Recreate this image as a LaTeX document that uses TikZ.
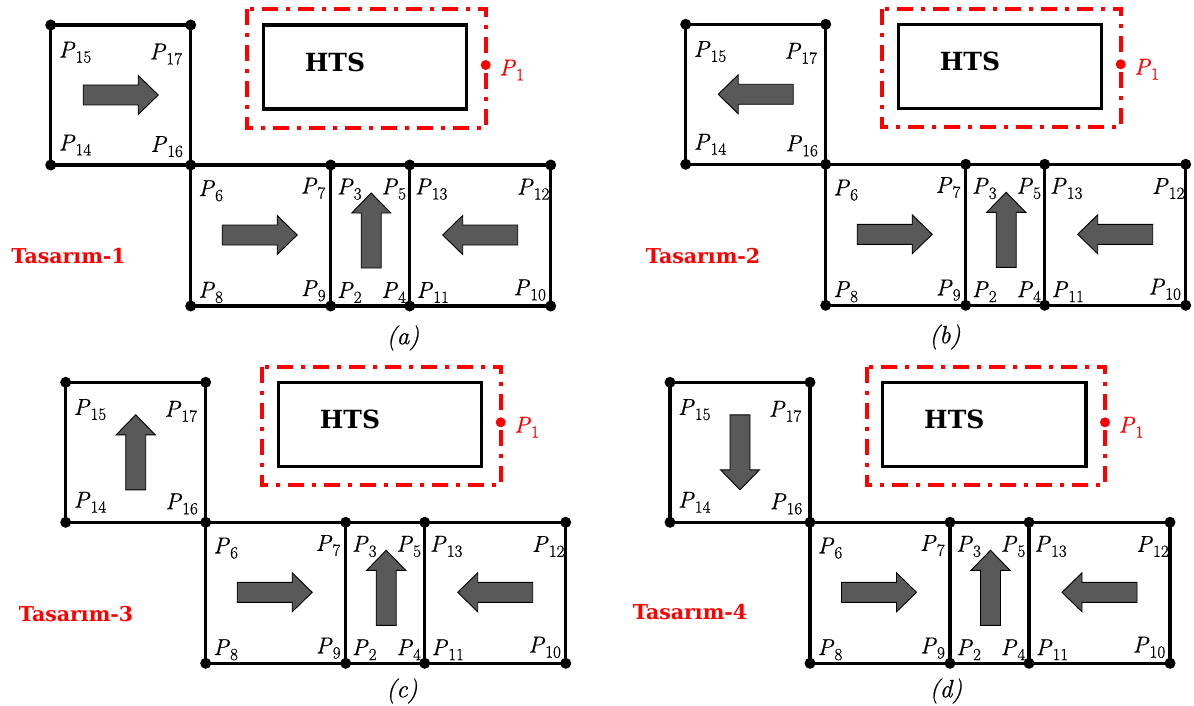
\documentclass[tikz,border=0pt]{standalone}
\usepackage{fontspec}
\newfontfamily\slabfont{DejaVu Serif}
\newfontfamily\pfont{Latin Modern Roman}[FakeBold=0.7]
\definecolor{arrowgray}{HTML}{595959}
\definecolor{hred}{HTML}{FF0000}
\newcommand\Pl[1]{\textit{P}\kern0.3pt\raisebox{-0.22em}{\fontsize{17}{18}\selectfont #1}}
\tikzset{
  blk/.style={line width=3.2pt, draw=black},
  cornerdot/.style={circle, fill=black, inner sep=0pt, minimum size=11pt},
  plabel/.style={inner sep=0pt, font=\pfont\fontsize{23}{25}\selectfont},
  fatarrow/.style={fill=arrowgray, draw=black, line width=0.9pt, line join=miter},
  redbox/.style={draw=hred, line width=4pt, dash pattern=on 16pt off 8pt on 4pt off 8pt},
  htsbox/.style={line width=3.2pt, draw=black},
  htstext/.style={font=\slabfont\bfseries\fontsize{25}{28}\selectfont, inner sep=0pt},
  tastext/.style={font=\slabfont\bfseries\fontsize{20.5}{24}\selectfont, text=hred, inner sep=0pt},
  captext/.style={font=\pfont\itshape\fontsize{25}{28}\selectfont, inner sep=0pt},
  reddot/.style={circle, fill=hred, inner sep=0pt, minimum size=10pt},
}
\newcommand\fatarr[3]{%
  \begin{scope}[shift={(#1,#2)}, rotate=#3]
    \filldraw[fatarrow] (-37.5,-10) -- (17.5,-10) -- (17.5,-19.5) -- (37.5,0)
      -- (17.5,19.5) -- (17.5,10) -- (-37.5,10) -- cycle;
  \end{scope}}
\newcommand\panel[4]{%
  \begin{scope}[shift={(#2,#3)}]
    \coordinate (#1-tl) at (0,0);
    \coordinate (#1-tr) at (140,0);
    \coordinate (#1-bl) at (0,140);
    \coordinate (#1-br) at (140,140);
    \coordinate (#1-b2) at (280,140);
    \coordinate (#1-b3) at (359,140);
    \coordinate (#1-b4) at (500,140);
    \coordinate (#1-c1) at (140,281);
    \coordinate (#1-c2) at (280,281);
    \coordinate (#1-c3) at (359,281);
    \coordinate (#1-c4) at (500,281);
    \draw[blk] (#1-tl) rectangle (#1-br);
    \draw[blk] (#1-br) rectangle (#1-c4);
    \draw[blk] (#1-b2) -- (#1-c2);
    \draw[blk] (#1-b3) -- (#1-c3);
    \foreach \q in {tl,tr,bl,br,b2,b3,b4,c1,c2,c3,c4}
      \node[cornerdot] (#1-d\q) at (#1-\q) {};
    \draw[redbox] (196.6,-15.7) rectangle (435,103);
    \draw[htsbox] (212.6,0) rectangle (416,84);
    \node[htstext] (#1-hts) at (284.3,37.5) {HTS};
    \node[reddot] (#1-p1dot) at (435,40) {};
    \node[plabel, text=hred] (#1-p1) at (461,45) {\Pl{1}};
    \fatarr{70}{70}{#4}
    \fatarr{209}{210}{0}
    \fatarr{320.5}{205.5}{90}
    \fatarr{429.5}{210}{180}
    \node[plabel] (#1-p15) at (24.3,27.3) {\Pl{15}};
    \node[plabel] (#1-p17) at (115.1,29.2) {\Pl{17}};
    \node[plabel] (#1-p14) at (24.3,120) {\Pl{14}};
    \node[plabel] (#1-p16) at (116,121.7) {\Pl{16}};
    \node[plabel] (#1-p6) at (160,165.8) {\Pl{6}};
    \node[plabel] (#1-p7) at (262.3,163.3) {\Pl{7}};
    \node[plabel] (#1-p3) at (298.6,164.2) {\Pl{3}};
    \node[plabel] (#1-p5) at (343,164.2) {\Pl{5}};
    \node[plabel] (#1-p13) at (380.5,164.2) {\Pl{13}};
    \node[plabel] (#1-p12) at (482.5,164.2) {\Pl{12}};
    \node[plabel] (#1-p8) at (160,267.5) {\Pl{8}};
    \node[plabel] (#1-p9) at (262.6,265.8) {\Pl{9}};
    \node[plabel] (#1-p2) at (298.6,267.5) {\Pl{2}};
    \node[plabel] (#1-p4) at (343,267.5) {\Pl{4}};
    \node[plabel] (#1-p11) at (382,267.5) {\Pl{11}};
    \node[plabel] (#1-p10) at (479,265) {\Pl{10}};
  \end{scope}}
\begin{document}
\begin{tikzpicture}[x=1pt, y=-1pt]
  \useasboundingbox[fill=white] (0,0) rectangle (1194,706);
  \panel{a}{50.7}{25}{0}
  \panel{b}{685.7}{24.3}{180}
  \panel{c}{65.7}{382.3}{90}
  \panel{d}{670}{382.3}{-90}
  \node[tastext] (ta) at (68.5,256) {Tasarım-1};
  \node[tastext] (tb) at (703,256) {Tasarım-2};
  \node[tastext] (tc) at (76,614) {Tasarım-3};
  \node[tastext] (td) at (690,612) {Tasarım-4};
  \node[captext] (ca) at (403,338) {(a)};
  \node[captext] (cb) at (945,337) {(b)};
  \node[captext] (cc) at (402,691) {(c)};
  \node[captext] (cd) at (946,691) {(d)};
\end{tikzpicture}
\end{document}
